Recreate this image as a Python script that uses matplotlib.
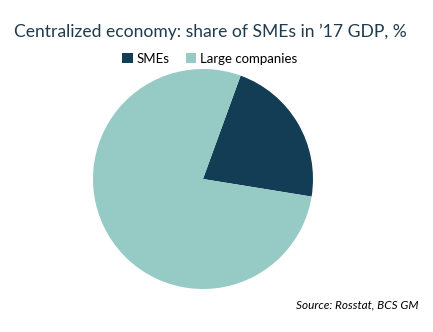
import matplotlib.pyplot as plt
from matplotlib.patches import Patch

labels = ["SMEs", "Large companies"]
shares = [22, 78]
colors = ["#133C55", "#96CBC5"]

plt.rcParams['font.family'] = ['Lato', 'DejaVu Sans']

fig = plt.figure(figsize=(4.33, 3.32), dpi=100)
# pie centred at about (203, 179) px, radius ~110 px
ax = fig.add_axes([93/433, (332-179-110)/332, 220/433, 220/332])
ax.pie(shares, colors=colors, startangle=70, counterclock=False,
       wedgeprops=dict(linewidth=0))
ax.set_xlim(-1, 1)
ax.set_ylim(-1, 1)
ax.set_aspect('equal')

fig.text(210/433, 1-32/332, "Centralized economy: share of SMEs in \u201917 GDP, %",
         ha='center', va='center', fontsize=12.6, color='#1F3B4D')
handles = [Patch(facecolor=c, edgecolor='none') for c in colors]
fig.legend(handles, labels, loc='center', bbox_to_anchor=(210/433, 1-59/332),
           ncol=2, frameon=False, fontsize=9.5, handlelength=0.8, handleheight=0.8,
           handletextpad=0.3, columnspacing=1.2, borderaxespad=0)
fig.text(418/433, 1-305/332, "Source: Rosstat, BCS GM", ha='right', va='center',
         fontsize=8.5, style='italic', color='black')

fig.savefig("out.png", dpi=100)
